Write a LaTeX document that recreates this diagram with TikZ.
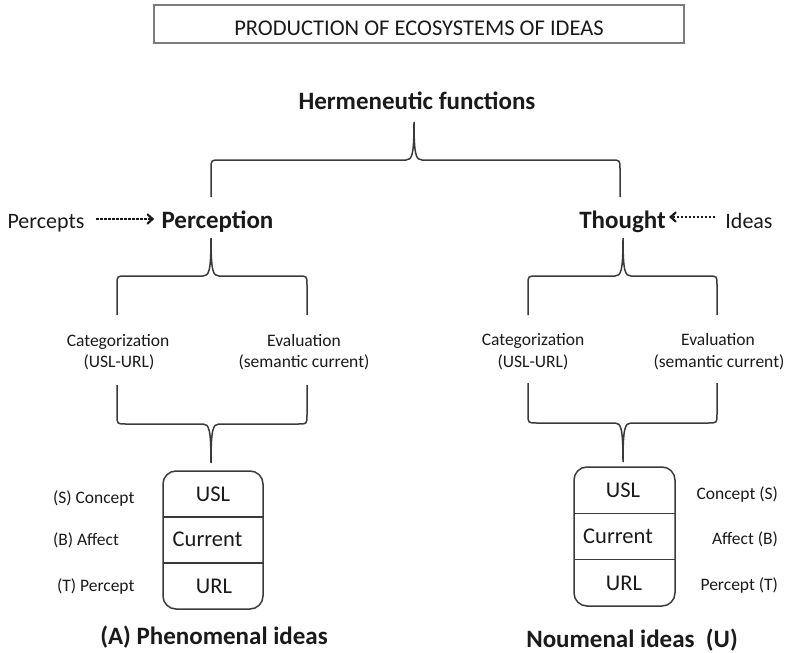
\documentclass[tikz,border=0pt]{standalone}
\usepackage{fontspec}
\setmainfont{Carlito}
\usetikzlibrary{arrows.meta,calc}

\definecolor{ink}{HTML}{1A1A1A}
\definecolor{rulegray}{HTML}{3A3A3A}
\definecolor{framegray}{HTML}{7C7C7C}

% Curly brace with its cusp pointing up: xl, xr, cusp x, bar y, tip y, leg-end y
\newcommand{\ideabraceup}[6]{%
  \draw[bracepath] (#1,#6) -- (#1,#4+9) .. controls (#1,#4) .. (#1+9,#4)
    -- (#3-8,#4) .. controls (#3-2,#4) and (#3,#4-5) .. (#3,#5)
    .. controls (#3,#4-5) and (#3+2,#4) .. (#3+8,#4)
    -- (#2-9,#4) .. controls (#2,#4) .. (#2,#4+9) -- (#2,#6);}
% Curly brace with its cusp pointing down
\newcommand{\ideabracedown}[6]{%
  \draw[bracepath] (#1,#6) -- (#1,#4-9) .. controls (#1,#4) .. (#1+9,#4)
    -- (#3-8,#4) .. controls (#3-2,#4) and (#3,#4+5) .. (#3,#5)
    .. controls (#3,#4+5) and (#3+2,#4) .. (#3+8,#4)
    -- (#2-9,#4) .. controls (#2,#4) .. (#2,#4-9) -- (#2,#6);}

\tikzset{
  dashshaft/.style={draw=ink,line width=1.3pt,dash pattern=on 2.5pt off 1.5pt},
  barbtip/.style={draw=ink,line width=2.2pt,line cap=round,line join=miter}
}

\begin{document}
\begin{tikzpicture}[x=1pt,y=-1pt,
  every node/.style={inner sep=0pt,outer sep=0pt,text=ink},
  titlefont/.style={font=\fontsize{22.5}{27}\selectfont},
  headfont/.style={font=\fontsize{25}{30}\selectfont\bfseries},
  sidefont/.style={font=\fontsize{22}{26}\selectfont},
  smallfont/.style={font=\fontsize{17.5}{21}\selectfont},
  cellfont/.style={font=\fontsize{22.5}{27}\selectfont},
  titleframe/.style={draw=framegray,line width=2pt},
  bracepath/.style={draw=rulegray,line width=1.5pt},
  cellbox/.style={draw=rulegray,line width=1.5pt,rounded corners=13pt},
  divider/.style={draw=rulegray,line width=1.5pt}]

\useasboundingbox (0,0) rectangle (788,653);

% Title
\node[titleframe,minimum width=530,minimum height=38] (titlebox) at (419,24) {};
\node[titlefont,anchor=base] (title) at (419,35) {PRODUCTION OF ECOSYSTEMS OF IDEAS};

% Top level
\node[headfont,anchor=base] (herm) at (417,109) {Hermeneutic functions};
\ideabraceup{211}{620}{414}{160}{122}{197}

% Perception side
\node[headfont,anchor=base] (perception) at (217.5,228) {Perception};
\node[sidefont,anchor=base] (percepts) at (46,228) {Percepts};
\coordinate (pTail) at ($(percepts.base east)+(12,-9)$);
\coordinate (pHead) at ($(perception.base west)+(-9,-9)$);
\draw[dashshaft] (pTail) -- ($(pHead)+(-1.5,0)$);
\draw[barbtip] ($(pHead)+(-5,-4.5)$) -- (pHead) -- ($(pHead)+(-5,4.5)$);

\ideabraceup{117}{307}{211}{276}{238}{315}
\node[smallfont,anchor=base] (catA1) at (118,346) {Categorization};
\node[smallfont,anchor=base] (catA2) at (119,367) {(USL-URL)};
\node[smallfont,anchor=base] (evaA1) at (304,346) {Evaluation};
\node[smallfont,anchor=base] (evaA2) at (304,367) {(semantic current)};
\ideabracedown{117}{307}{211}{424}{463}{385}

% Thought side
\node[headfont,anchor=base] (thought) at (622.5,228) {Thought};
\node[sidefont,anchor=base] (ideas) at (749,228) {Ideas};
\coordinate (iTail) at ($(ideas.base west)+(-10,-11)$);
\coordinate (iHead) at ($(thought.base east)+(5,-11)$);
\draw[dashshaft] (iTail) -- ($(iHead)+(1.5,0)$);
\draw[barbtip] ($(iHead)+(5,-4.5)$) -- (iHead) -- ($(iHead)+(5,4.5)$);

\ideabraceup{528}{717}{623}{276}{238}{315}
\node[smallfont,anchor=base] (catB1) at (533,345) {Categorization};
\node[smallfont,anchor=base] (catB2) at (533,367) {(USL-URL)};
\node[smallfont,anchor=base] (evaB1) at (718,345) {Evaluation};
\node[smallfont,anchor=base] (evaB2) at (719,367) {(semantic current)};
\ideabracedown{528}{717}{623}{423}{462}{383}

% Phenomenal idea cell
\node[cellbox,minimum width=100,minimum height=138] (boxA) at (213,540) {};
\draw[divider] ($(boxA.north west)!1/3!(boxA.south west)$) -- ($(boxA.north east)!1/3!(boxA.south east)$);
\draw[divider] ($(boxA.north west)!2/3!(boxA.south west)$) -- ($(boxA.north east)!2/3!(boxA.south east)$);
\node[cellfont,anchor=base] (uslA) at (213,501) {USL};
\node[cellfont,anchor=base] (curA) at (207.5,546) {Current};
\node[cellfont,anchor=base] (urlA) at (214,593) {URL};
\node[smallfont,anchor=base west] (conA) at (53,503) {(S) Concept};
\node[smallfont,anchor=base west] (affA) at (53,545) {(B) Affect};
\node[smallfont,anchor=base west] (perA) at (57,591) {(T) Percept};
\node[headfont,anchor=base] (phen) at (214,644) {(A) Phenomenal ideas};

% Noumenal idea cell
\node[cellbox,minimum width=101,minimum height=139] (boxB) at (624.5,536.5) {};
\draw[divider] ($(boxB.north west)!1/3!(boxB.south west)$) -- ($(boxB.north east)!1/3!(boxB.south east)$);
\draw[divider] ($(boxB.north west)!2/3!(boxB.south west)$) -- ($(boxB.north east)!2/3!(boxB.south east)$);
\node[cellfont,anchor=base] (uslB) at (623,497) {USL};
\node[cellfont,anchor=base] (curB) at (618,543) {Current};
\node[cellfont,anchor=base] (urlB) at (624,590) {URL};
\node[smallfont,anchor=base east] (conB) at (778,499) {Concept (S)};
\node[smallfont,anchor=base east] (affB) at (778,544) {Affect (B)};
\node[smallfont,anchor=base east] (perB) at (778,590) {Percept (T)};
\node[headfont,anchor=base] (noum) at (632,647) {Noumenal ideas\ \ (U)};

\end{tikzpicture}
\end{document}
